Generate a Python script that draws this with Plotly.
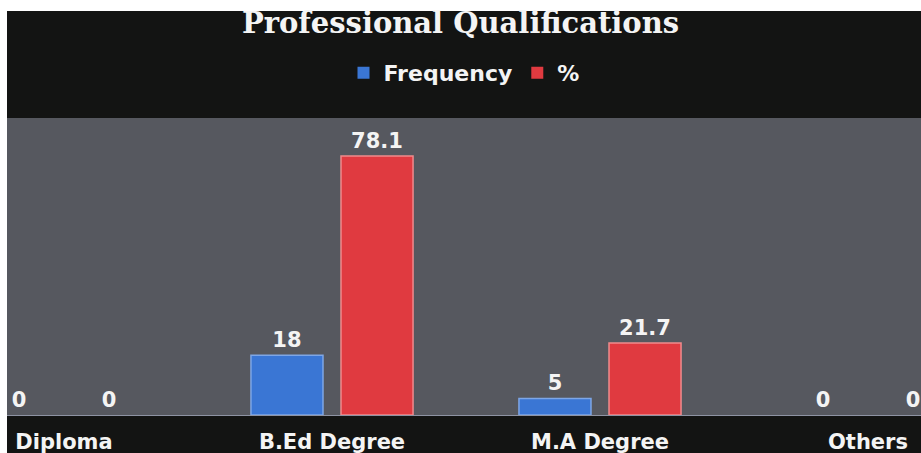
import plotly.graph_objects as go

# Chart data
categories = ["Diploma", "B.Ed Degree", "M.A Degree", "Others"]
frequency = [0, 18, 5, 0]
percent = [0, 78.1, 21.7, 0]
series_names = ["Frequency", "%"]
title_text = "Professional Qualifications"

W, H = 921, 453
ML, MT = 7, 11
PW, PH = W - ML, H - MT

BLACK = "#131413"
GRAY = "#56585f"
BLUE = "#3a76d4"
RED = "#e03a40"
WHITE = "#f4f4f4"

sans = "DejaVu Sans"


def fmt(v):
    return f"{v:g}"


def edge_widths(values):
    # no outline on empty bars so they leave no sliver on the baseline
    return [1.5 if v else 0 for v in values]


fig = go.Figure()
fig.add_trace(go.Bar(
    name=series_names[0], x=categories, y=frequency,
    text=[fmt(v) for v in frequency], textposition="outside",
    marker=dict(color=BLUE, line=dict(color="#7ea6e6", width=edge_widths(frequency))),
    textfont=dict(family=sans, size=21, color=WHITE, weight="bold"),
    cliponaxis=False,
))
fig.add_trace(go.Bar(
    name=series_names[1], x=categories, y=percent,
    text=[fmt(v) for v in percent], textposition="outside",
    marker=dict(color=RED, line=dict(color="#f08a8c", width=edge_widths(percent))),
    textfont=dict(family=sans, size=21, color=WHITE, weight="bold"),
    cliponaxis=False,
))

# white page edge along the top and left of the chart frame
edge_shapes = [
    dict(type="rect", xref="paper", yref="paper",
         x0=-ML / PW - 0.01, x1=0, y0=0, y1=1 + MT / PH + 0.01,
         fillcolor="white", line=dict(width=0), layer="above"),
    dict(type="rect", xref="paper", yref="paper",
         x0=-ML / PW - 0.01, x1=1.01, y0=1, y1=1 + MT / PH + 0.01,
         fillcolor="white", line=dict(width=0), layer="above"),
]

fig.update_layout(
    width=W, height=H,
    margin=dict(l=ML, r=0, t=MT, b=0, pad=0, autoexpand=False),
    paper_bgcolor=BLACK,
    plot_bgcolor=GRAY,
    barmode="group",
    bargap=0.328,
    bargroupgap=0.2,
    showlegend=True,
    title=dict(
        text=title_text, x=0.5, xref="container", xanchor="center",
        y=1 - 23 / H, yref="container", yanchor="middle",
        font=dict(family="DejaVu Serif", size=29, color=WHITE, weight="bold"),
    ),
    legend=dict(
        orientation="h", x=0.5, xanchor="center",
        y=(H - 73) / PH, yanchor="middle",
        font=dict(family=sans, size=22, color=WHITE, weight="bold"),
        bgcolor="rgba(0,0,0,0)", itemwidth=30,
    ),
    xaxis=dict(
        type="category", range=[-0.2127, 3.1978], automargin=False,
        showgrid=False, zeroline=False,
        showline=True, linecolor="#8e93a3", linewidth=1,
        ticks="", ticklabelstandoff=8,
        tickfont=dict(family=sans, size=21, color=WHITE, weight="bold"),
    ),
    yaxis=dict(
        domain=[(H - 415) / PH, (H - 118) / PH], automargin=False,
        range=[0, 89.6], showgrid=False, zeroline=False,
        showticklabels=False, showline=False, ticks="",
    ),
    shapes=edge_shapes,
)

fig.write_html("out.html")
